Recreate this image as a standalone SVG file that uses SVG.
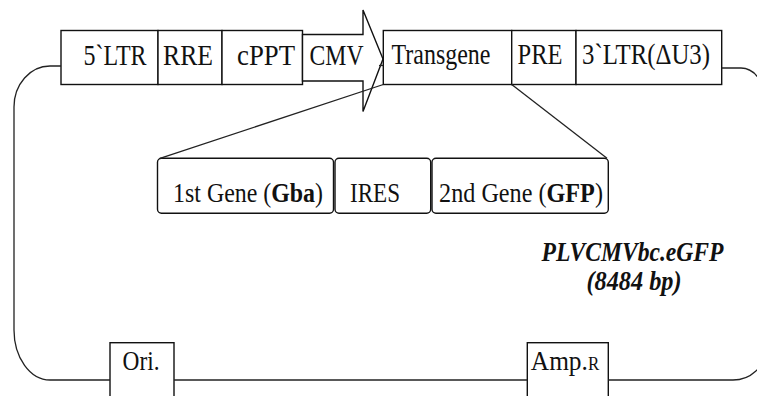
<svg xmlns="http://www.w3.org/2000/svg" width="757" height="396" viewBox="0 0 757 396">
<style>
.box{fill:#fff;stroke:#111;stroke-width:1.4}
.ln{fill:none;stroke:#222;stroke-width:1.3}
.t{font-family:"Liberation Serif","Times New Roman",serif;font-size:30px;fill:#111;text-anchor:middle}
.m{font-size:28px}
.s{font-size:27px}
.bi{font-weight:bold;font-style:italic;font-size:28px}
</style>
<rect width="757" height="396" fill="#fff"/>
<g id="ltr5"><rect class="box" x="61" y="30.5" width="97" height="54"/><text class="t" x="115" y="65" textLength="63" lengthAdjust="spacingAndGlyphs">5`LTR</text></g>
<g id="rre"><rect class="box" x="158" y="30.5" width="64" height="54"/><text class="t" x="188" y="65" textLength="50" lengthAdjust="spacingAndGlyphs">RRE</text></g>
<g id="cppt"><rect class="box" x="222" y="30.5" width="80.5" height="54"/><text class="t" x="266" y="65" textLength="58" lengthAdjust="spacingAndGlyphs">cPPT</text></g>
<g id="cmv"><polygon class="box" points="302.5,34.5 363,34.5 363,10 383,59 363,111.5 363,81 302.5,81"/><text class="t" x="336.5" y="65" textLength="54" lengthAdjust="spacingAndGlyphs">CMV</text></g>
<g id="transgene"><rect class="box" x="383.3" y="30.5" width="128.4" height="54"/><text class="t" x="441" y="64" textLength="99" lengthAdjust="spacingAndGlyphs">Transgene</text></g>
<g id="pre"><rect class="box" x="511.7" y="30.5" width="64.3" height="54"/><text class="t" x="540" y="64" textLength="45" lengthAdjust="spacingAndGlyphs">PRE</text></g>
<g id="ltr3"><rect class="box" x="576" y="30.5" width="145.7" height="54"/><text class="t" x="646" y="64" textLength="128" lengthAdjust="spacingAndGlyphs">3`LTR(ΔU3)</text></g>
<g id="gene1"><rect class="box" x="157.5" y="158.3" width="176" height="55" rx="4"/><text class="t m" transform="translate(248,202) scale(0.853,1)">1st Gene (<tspan font-weight="bold">Gba</tspan>)</text></g>
<g id="ires"><rect class="box" x="335" y="158.3" width="95.7" height="55" rx="4"/><text class="t m" x="375" y="202" textLength="50" lengthAdjust="spacingAndGlyphs">IRES</text></g>
<g id="gene2"><rect class="box" x="432" y="158.3" width="176.3" height="55" rx="4"/><text class="t m" transform="translate(521,202) scale(0.864,1)">2nd Gene (<tspan font-weight="bold">GFP</tspan>)</text></g>
<g id="title"><text class="t bi" x="632.5" y="261" textLength="182" lengthAdjust="spacingAndGlyphs">PLVCMVbc.eGFP</text><text class="t bi" x="634" y="290" textLength="95" lengthAdjust="spacingAndGlyphs">(8484 bp)</text></g>
<g id="ori"><rect class="box" x="110" y="342.7" width="64" height="70"/><text class="t s" x="141" y="370" textLength="37" lengthAdjust="spacingAndGlyphs">Ori.</text></g>
<g id="amp"><rect class="box" x="527.3" y="342.7" width="81" height="70"/><text class="t s" transform="translate(565,370) scale(0.94,1)">Amp.<tspan font-size="18">R</tspan></text></g>
<g id="connectors">
<path class="ln" d="M61,66 H50 A36,41 0 0 0 14,107 V330 A36,50 0 0 0 50,380 H110"/>
<path class="ln" d="M174,380 H527.3"/>
<path class="ln" d="M608.3,380 H733 A32,30 0 0 0 765,350 V100 A24,32 0 0 0 741,68 H721.7"/>
<path class="ln" d="M379,65.5 H383.3"/>
<path class="ln" d="M160,158.3 L383.3,84.5"/>
<path class="ln" d="M511.7,84.5 L607,158.3"/>
</g>
</svg>
